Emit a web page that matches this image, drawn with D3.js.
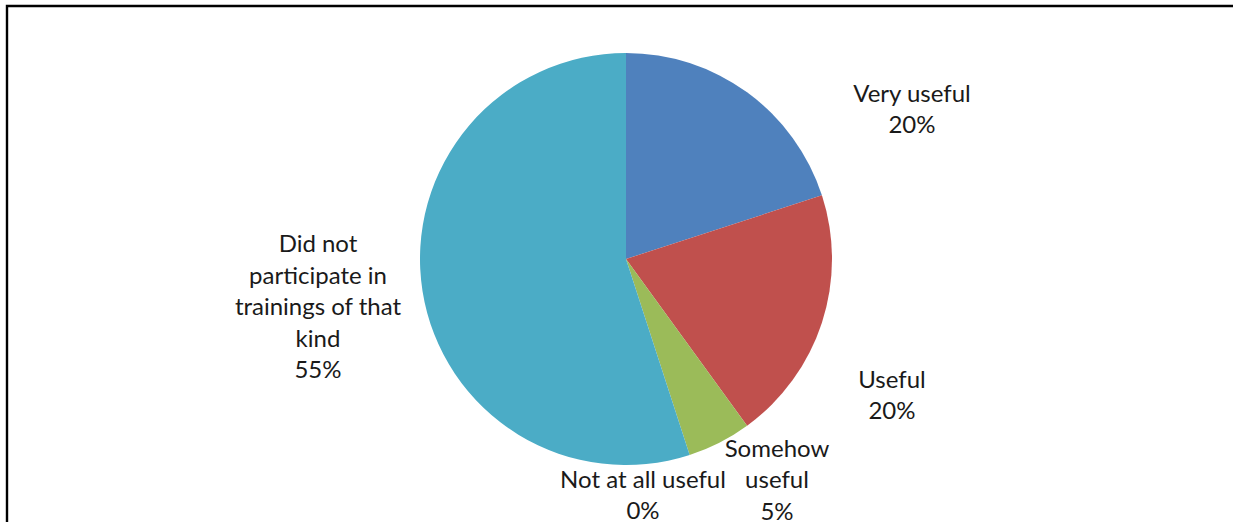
<!DOCTYPE html>
<html>
<head>
<meta charset="utf-8">
<script src="https://cdn.jsdelivr.net/npm/d3@7"></script>
<style>
  html, body { margin: 0; padding: 0; background: #fff; }
  svg { display: block; }
  text { font-family: Lato, "Open Sans", sans-serif; fill: #1a1a1a; }
</style>
</head>
<body>
<svg id="chart" width="1242" height="522"></svg>
<script>
// Responses: usefulness of trainings
const categories = ["Very useful", "Useful", "Somehow useful", "Not at all useful", "Did not participate in trainings of that kind"];
const values = [20, 20, 5, 0, 55];
const colors = ["#4F81BD", "#C0504D", "#9BBB59", "#8064A2", "#4BACC6"];

// Wrapped label lines for each category
const labelLines = [
  ["Very useful"],
  ["Useful"],
  ["Somehow", "useful"],
  ["Not at all useful"],
  ["Did not", "participate in", "trainings of that", "kind"]
];
// Label anchor (centre of the text block) in chart pixels
const labelPos = [
  [912, 109],
  [892, 395],
  [777, 480],
  [643, 495],
  [318, 307]
];

const svg = d3.select("#chart");

// Frame (top and left edges)
svg.append("path")
  .attr("d", "M7,524 L7,6 L1233,6")
  .attr("fill", "none")
  .attr("stroke", "#000")
  .attr("stroke-width", 2.4);

const cx = 626, cy = 259, r = 206;

const pie = d3.pie().sort(null).value(d => d.value);
const arc = d3.arc().innerRadius(0).outerRadius(r);

const data = categories.map((c, i) => ({ name: c, value: values[i], color: colors[i], lines: labelLines[i], pos: labelPos[i] }));

const g = svg.append("g").attr("transform", `translate(${cx},${cy})`);
g.selectAll("path.slice")
  .data(pie(data))
  .join("path")
  .attr("class", "slice")
  .attr("d", arc)
  .attr("fill", d => d.data.color);

// Data labels: category name + percentage
const lineH = 31.5;
const labels = svg.append("g");
data.forEach(d => {
  const lines = d.lines.concat([d.value + "%"]);
  const n = lines.length;
  const t = labels.append("text")
    .attr("text-anchor", "middle")
    .attr("font-size", 24);
  lines.forEach((ln, k) => {
    t.append("tspan")
      .attr("x", d.pos[0])
      .attr("y", d.pos[1] + (k - (n - 1) / 2) * lineH)
      .attr("dy", "0.35em")
      .text(ln);
  });
});
</script>
</body>
</html>
